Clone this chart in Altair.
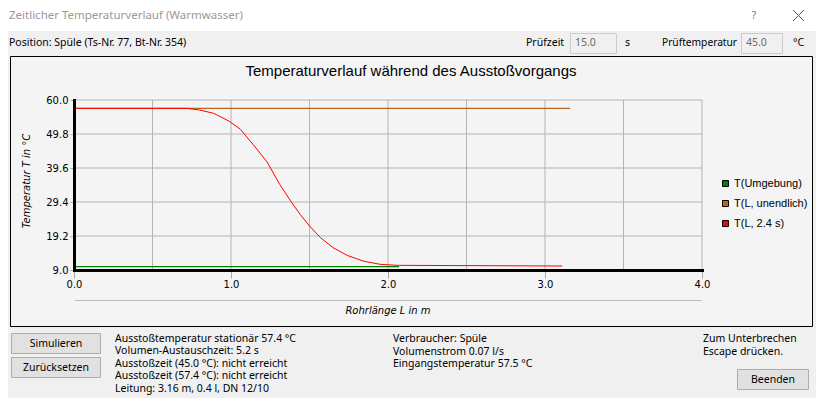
import altair as alt
import pandas as pd

# ---------------- chart data ----------------
red_len = [0.00, 0.72, 0.80, 0.89, 0.99, 1.06, 1.14, 1.23, 1.31, 1.38, 1.44, 1.50,
           1.57, 1.65, 1.74, 1.84, 1.95, 2.06, 3.11]
red_temp = [57.5, 57.5, 57.0, 56.0, 53.6, 51.2, 46.7, 41.4, 34.7, 29.7, 25.7, 22.2,
            18.7, 15.7, 13.4, 11.7, 10.7, 10.4, 10.2]
inf_len = [0.0, 3.16]
inf_temp = [57.5, 57.5]
amb_len = [0.0, 2.07]
amb_temp = [10.0, 10.0]

series_names = ["T(Umgebung)", "T(L, unendlich)", "T(L, 2.4 s)"]
series_colors = ["#008000", "#c0651a", "#ff0000"]
series_widths = [1.2, 1.2, 1.0]

x_ticks = [0.0, 1.0, 2.0, 3.0, 4.0]
x_grid = [0.5, 1.0, 1.5, 2.0, 2.5, 3.0, 3.5, 4.0]
y_ticks = [9.0, 19.2, 29.4, 39.6, 49.8, 60.0]
y_grid = [19.2, 29.4, 39.6, 49.8, 60.0]

window_title = "Zeitlicher Temperaturverlauf (Warmwasser)"
chart_title = "Temperaturverlauf während des Ausstoßvorgangs"
x_title = "Rohrlänge L in m"
y_title = "Temperatur T in °C"
position_text = "Position: Spüle (Ts-Nr. 77, Bt-Nr. 354)"
pruefzeit_label, pruefzeit_value, pruefzeit_unit = "Prüfzeit", "15.0", "s"
prueftemp_label, prueftemp_value, prueftemp_unit = "Prüftemperatur", "45.0", "°C"
info_left = [
    "Ausstoßtemperatur stationär 57.4 °C",
    "Volumen-Austauschzeit: 5.2 s",
    "Ausstoßzeit (45.0 °C): nicht erreicht",
    "Ausstoßzeit (57.4 °C): nicht erreicht",
    "Leitung: 3.16 m, 0.4 l, DN 12/10",
]
info_mid = ["Verbraucher: Spüle", "Volumenstrom 0.07 l/s", "Eingangstemperatur 57.5 °C"]
info_right = ["Zum Unterbrechen", "Escape drücken."]
buttons = ["Simulieren", "Zurücksetzen", "Beenden"]

# ---------------- layout ----------------
PX, PY = 74, 100          # plot-area origin in screen pixels
W, H = 628, 170           # plot-area size
CW, CH = 808, 390         # canvas size (page has 8px margins)
UI = "Noto Sans"
UIS = 10.5
AXF = "DejaVu Sans"
dummy = pd.DataFrame({"d": [0]})


def rect(x1, y1, x2, y2, fill, stroke=None, sw=1):
    kw = dict(fill=fill)
    if stroke:
        kw.update(stroke=stroke, strokeWidth=sw)
    return alt.Chart(dummy).mark_rect(**kw).encode(
        x=alt.value(x1 - PX), x2=alt.value(x2 - PX),
        y=alt.value(y1 - PY), y2=alt.value(y2 - PY))


def line(x1, y1, x2, y2, color, sw=1):
    return alt.Chart(dummy).mark_rule(color=color, strokeWidth=sw).encode(
        x=alt.value(x1 - PX), x2=alt.value(x2 - PX),
        y=alt.value(y1 - PY), y2=alt.value(y2 - PY))


def text(x, y, s, size=UIS, font=UI, color="#000000", align="left",
         style="normal", angle=0):
    return alt.Chart(dummy).mark_text(
        text=s, align=align, baseline="middle", font=font, fontSize=size,
        color=color, fontStyle=style, angle=angle).encode(
        x=alt.value(x - PX), y=alt.value(y - PY))


layers = []
# window chrome
layers.append(rect(0, 0, 824, 31, "#ffffff"))
layers.append(text(9, 16, window_title, size=11.5, color="#999999"))
layers.append(text(754, 16, "?", size=11, color="#808080", align="center"))
layers.append(line(793, 10, 804, 21, "#555555"))
layers.append(line(793, 21, 804, 10, "#555555"))

# info row
layers.append(text(9, 43, position_text))
layers.append(text(526, 43, pruefzeit_label))
layers.append(rect(570.5, 33.5, 616.5, 53.5, "#f0f0f0", "#cccccc"))
layers.append(text(575, 43, pruefzeit_value, color="#6d6d6d"))
layers.append(text(625, 43, pruefzeit_unit))
layers.append(text(662, 43, prueftemp_label, size=10.2))
layers.append(rect(741.5, 33.5, 782.5, 53.5, "#f0f0f0", "#cccccc"))
layers.append(text(746, 43, prueftemp_value, color="#6d6d6d"))
layers.append(text(793, 43, prueftemp_unit))

# chart panel
layers.append(rect(10.5, 56.5, 812.5, 326.5, "#f4f4f4", "#000000"))
layers.append(text(411, 71, chart_title, size=15, font="Liberation Sans", align="center"))
layers.append(line(75, 300.5, 702, 300.5, "#bcbcbc"))
layers.append(text(388, 311, x_title, size=10, font=AXF, style="italic", align="center"))
layers.append(text(27, 181, y_title, size=10, font=AXF, style="italic", align="center", angle=270))

# buttons
btn_boxes = [(11.5, 333.5, 100.5, 353.5), (11.5, 357.5, 100.5, 377.5), (737.5, 369.5, 808.5, 389.5)]
for label, (x1, y1, x2, y2) in zip(buttons, btn_boxes):
    layers.append(rect(x1, y1, x2, y2, "#e1e1e1", "#adadad"))
    layers.append(text((x1 + x2) / 2, (y1 + y2) / 2, label, align="center"))

# info texts
for i, s in enumerate(info_left):
    layers.append(text(115, 338.5 + 12.5 * i, s))
for i, s in enumerate(info_mid):
    layers.append(text(393, 339 + 12.5 * i, s))
for i, s in enumerate(info_right):
    layers.append(text(703, 339 + 12.5 * i, s))

# ---------------- plot ----------------
xs = alt.Scale(domain=[0, 4], nice=False, zero=False)
ys = alt.Scale(domain=[9, 60], nice=False, zero=False)
x_axis = alt.Axis(values=x_ticks, format=".1f", grid=False, title=None,
                  domainColor="#000000", domainWidth=3, domainCap="square",
                  tickColor="#a8a8a8", tickSize=8, labelPadding=1, labelFlush=False,
                  labelFont=AXF, labelFontSize=10, labelColor="#000000", zindex=1)
y_axis = alt.Axis(values=y_ticks, format=".1f", grid=False, title=None,
                  domainColor="#000000", domainWidth=3, domainCap="square",
                  tickColor="#a8a8a8", tickSize=4, labelPadding=2,
                  labelFont=AXF, labelFontSize=10, labelColor="#000000", zindex=1)

layers.append(alt.Chart(pd.DataFrame({"g": x_grid})).mark_rule(color="#b4b4b4", strokeWidth=1)
              .encode(x=alt.X("g:Q", scale=xs, axis=x_axis)))
layers.append(alt.Chart(pd.DataFrame({"g": y_grid})).mark_rule(color="#b4b4b4", strokeWidth=1)
              .encode(y=alt.Y("g:Q", scale=ys, axis=y_axis)))

series_data = [(amb_len, amb_temp), (inf_len, inf_temp), (red_len, red_temp)]
for (lx, ty), col, sw in zip(series_data, series_colors, series_widths):
    df = pd.DataFrame({"L": lx, "T": ty})
    layers.append(alt.Chart(df).mark_line(color=col, strokeWidth=sw).encode(
        x=alt.X("L:Q", scale=xs, axis=x_axis),
        y=alt.Y("T:Q", scale=ys, axis=y_axis)))

# legend
for i, (name, col) in enumerate(zip(series_names, series_colors)):
    cy = 183.5 + 20 * i
    layers.append(rect(722.5, cy - 3, 728.5, cy + 3, col, "#000000"))
    layers.append(text(734, cy, name, size=11, font="Liberation Sans"))

chart = alt.layer(*layers).properties(
    width=W, height=H,
    padding={"left": PX - 8, "top": PY - 8,
             "right": CW - (PX - 8) - W, "bottom": CH - (PY - 8) - H},
    autosize=alt.AutoSizeParams(type="none"),
    background="#f0f0f0",
).configure_view(stroke=None)

chart.save("out.html", embed_options={"renderer": "svg", "actions": False})
